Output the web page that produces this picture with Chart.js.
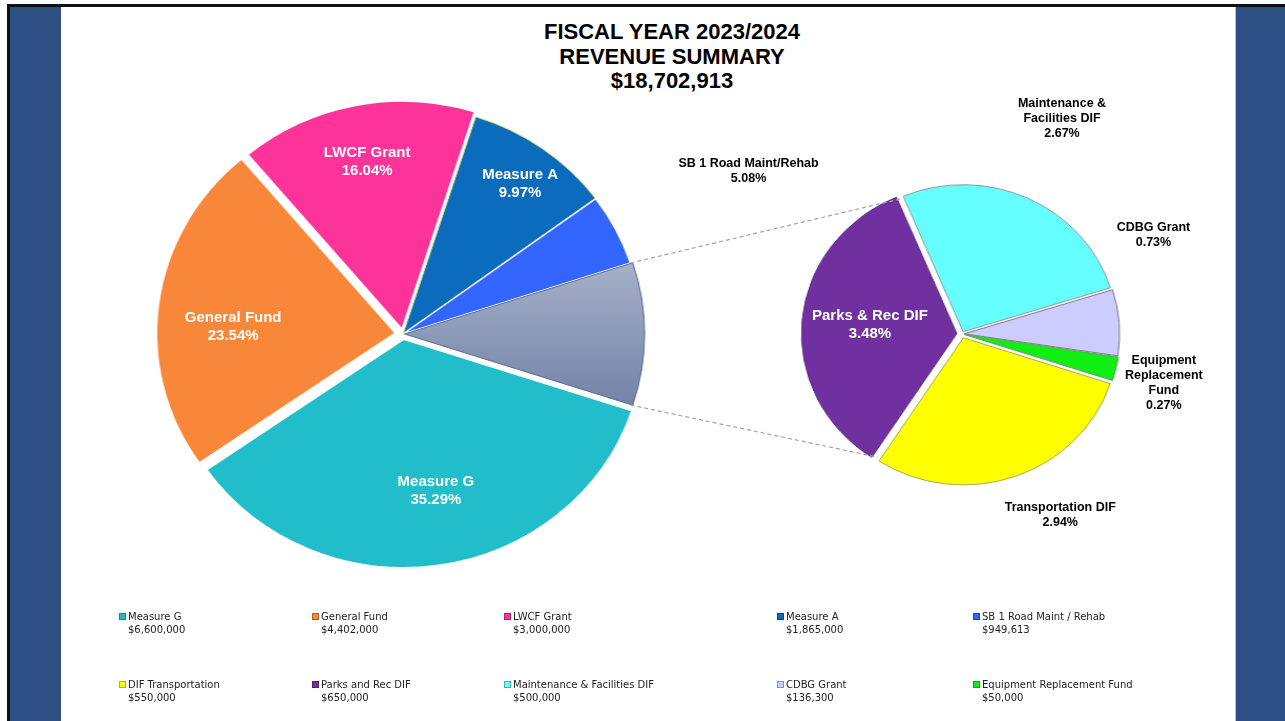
<!DOCTYPE html>
<html>
<head>
<meta charset="utf-8">
<title>Fiscal Year 2023/2024 Revenue Summary</title>
<script src="https://cdn.jsdelivr.net/npm/chart.js@4.4.1/dist/chart.umd.min.js"></script>
<style>
    html, body { margin: 0; padding: 0; background: #fff; }
    #page { position: relative; width: 1285px; height: 721px; overflow: hidden; background: #fff; }
    .frame { position: absolute; background: #111; }
    .band { position: absolute; top: 7px; height: 714px; background: #2d4f83; }
    #title {
        position: absolute; left: 472px; top: 20px; width: 400px;
        text-align: center; color: #000;
        font: bold 22px "Liberation Sans", Arial, sans-serif; line-height: 24.5px;
    }
    canvas.pie { position: absolute; transform: scaleX(1.05); }
    #overlay { position: absolute; left: 0; top: 0; pointer-events: none; }
    .lg {
        position: absolute; padding-left: 9px; color: #222;
        font: 10px "DejaVu Sans", Tahoma, sans-serif; line-height: 13px; white-space: nowrap;
    }
    .lg .sw { position: absolute; left: 0; top: 3px; width: 5px; height: 5px; border: 1px solid rgba(0,0,0,0.3); }
</style>
</head>
<body>
<div id="page">
    <div class="frame" style="left:7px; top:4px; width:1278px; height:3px;"></div>
    <div class="frame" style="left:7px; top:4px; width:3px; height:717px;"></div>
    <div class="band" style="left:10px; width:51px;"></div>
    <div class="band" style="left:1235px; width:50px; border-left:1px solid #b8c4d8;"></div>

    <div id="title"></div>

    <canvas id="main-pie" class="pie" width="520" height="520" style="left:143px; top:74px;"></canvas>
    <canvas id="sub-pie" class="pie" width="340" height="340" style="left:792px; top:164px;"></canvas>
    <canvas id="overlay" width="1285" height="721"></canvas>
    <div id="legend"></div>
</div>

<script>
/* ── Revenue summary, pie of pie ── */

// ── Data ──
const MAIN_LEGEND = ['Measure G', 'General Fund', 'LWCF Grant', 'Measure A', 'SB 1 Road Maint / Rehab'];
const MAIN_SLICE_NAMES = [['Measure G'], ['General Fund'], ['LWCF Grant'], ['Measure A'], ['SB 1 Road Maint/Rehab']];
const MAIN_VALUES = [6600000, 4402000, 3000000, 1865000, 949613];

const SUB_LEGEND = ['DIF Transportation', 'Parks and Rec DIF', 'Maintenance & Facilities DIF', 'CDBG Grant', 'Equipment Replacement Fund'];
const SUB_SLICE_NAMES = [['Transportation DIF'], ['Parks & Rec DIF'], ['Maintenance &', 'Facilities DIF'], ['CDBG Grant'], ['Equipment', 'Replacement', 'Fund']];
const SUB_VALUES = [550000, 650000, 500000, 136300, 50000];

// ── Styles ──
const MAIN_COLORS = ['#22bdca', '#f8873a', '#fc3399', '#0b6cbd', '#3366ff'];
const MAIN_BORDERS = ['#ffffff', '#ffffff', '#ffffff', '#e2de7a', '#ffffff', '#5b6b8c'];
const MAIN_BORDER_W = [2, 2, 2, 1, 1.5, 1];
const MAIN_EXPLODE = [5, 7, 4.5, 0, 0, 1.5];        // px the slice is pulled out

const SUB_COLORS = ['#ffff00', '#7030a0', '#66ffff', '#ccccff', '#11ee11'];
const SUB_BORDERS = ['#a8a850', '#5d2a85', '#8c9a9a', '#7a7a8c', '#6a9a6a'];
const SUB_EXPLODE = [4, 5, 2.5, 2, 2];

const SX = 1.05;            // the original slide is stretched a little sideways
const MAIN_RADIUS = 228;
const SUB_RADIUS = 147;

// label placement: distance as share of radius, angle nudge (deg), inside the slice?
const MAIN_LABEL_POS = [
    { f: 0.70, da: -3, inside: true },
    { f: 0.71, da: -5, inside: true },
    { f: 0.77, da: 0, inside: true },
    { f: 0.82, da: 1, inside: true },
    { f: 1.61, da: 1, inside: false },
];
const SUB_LABEL_POS = [
    { f: 1.385, da: -8, inside: false },
    { f: 0.60, da: 1, inside: true },
    { f: 1.60, da: -1, inside: false },
    { f: 1.41, da: -24, inside: false },
    { f: 1.35, da: 1, inside: false },
];

// ── Derived ──
const OTHER_TOTAL = SUB_VALUES.reduce((a, b) => a + b, 0);
const GRAND_TOTAL = MAIN_VALUES.reduce((a, b) => a + b, 0) + OTHER_TOTAL;
const OTHER_IDX = MAIN_VALUES.length;
// centre the "other" slice on the right-hand side, like Excel does
const ROTATION = 90 + (OTHER_TOTAL / GRAND_TOTAL) * 360 / 2;

const money = v => '$' + v.toLocaleString('en-US');
const pct = v => (v / GRAND_TOTAL * 100).toFixed(2) + '%';

// ── Helpers ──
function otherFill(c) {
    const area = c.chart.chartArea;
    if (!area) return '#8e9bb9';
    const cy = (area.top + area.bottom) / 2;
    const g = c.chart.ctx.createLinearGradient(0, cy - 80, 0, cy + 80);
    g.addColorStop(0, '#a9b4cb');
    g.addColorStop(1, '#7080a6');
    return g;
}

function pieChart(id, data, opts) {
    return new Chart(document.getElementById(id), {
        type: 'pie',
        data: {
            datasets: [{
                data,
                backgroundColor: opts.background,
                borderColor: opts.borders,
                borderWidth: opts.borderWidth,
                offset: opts.explode.map(px => px * 4),
            }],
        },
        options: {
            responsive: false,
            maintainAspectRatio: false,
            devicePixelRatio: 1,
            animation: false,
            events: [],
            radius: opts.radius,
            rotation: ROTATION,
            layout: { padding: 0 },
            plugins: { legend: { display: false }, tooltip: { enabled: false }, title: { display: false } },
        },
    });
}

function pagePoint(chart, lx, ly) {
    const c = chart.canvas;
    const w = chart.width;
    return { x: c.offsetLeft + w / 2 + (lx - w / 2) * SX, y: c.offsetTop + ly };
}

function rimPoint(chart, el, angle) {
    return pagePoint(chart, el.x + Math.cos(angle) * el.outerRadius, el.y + Math.sin(angle) * el.outerRadius);
}

function drawLabels(ctx, chart, names, values, pos) {
    const arcs = chart.getDatasetMeta(0).data;
    names.forEach((lines, i) => {
        const el = arcs[i];
        const p = pos[i];
        const a = (el.startAngle + el.endAngle) / 2 + p.da * Math.PI / 180;
        const d = el.outerRadius * p.f;
        const pt = pagePoint(chart, el.x + Math.cos(a) * d, el.y + Math.sin(a) * d);
        const text = lines.concat([pct(values[i])]);
        const lh = p.inside ? 18 : 15;
        ctx.font = p.inside ? 'bold 15px "Liberation Sans", Arial, sans-serif'
                            : 'bold 12.5px "Liberation Sans", Arial, sans-serif';
        ctx.fillStyle = p.inside ? '#ffffff' : '#000000';
        ctx.textAlign = 'center';
        ctx.textBaseline = 'middle';
        const y0 = pt.y - (text.length - 1) * lh / 2;
        text.forEach((t, k) => ctx.fillText(t, pt.x, y0 + k * lh));
    });
}

// ── Title ──
document.getElementById('title').innerHTML =
    'FISCAL YEAR 2023/2024<br>REVENUE SUMMARY<br>' + money(GRAND_TOTAL);

// ── Charts ──
const mainChart = pieChart('main-pie', MAIN_VALUES.concat([OTHER_TOTAL]), {
    background: c => c.dataIndex === OTHER_IDX ? otherFill(c) : MAIN_COLORS[c.dataIndex],
    borders: MAIN_BORDERS,
    borderWidth: MAIN_BORDER_W,
    explode: MAIN_EXPLODE,
    radius: MAIN_RADIUS,
});

const subChart = pieChart('sub-pie', SUB_VALUES, {
    background: SUB_COLORS,
    borders: SUB_BORDERS,
    borderWidth: 1,
    explode: SUB_EXPLODE,
    radius: SUB_RADIUS,
});

// ── Connectors and data labels ──
const octx = document.getElementById('overlay').getContext('2d');
const other = mainChart.getDatasetMeta(0).data[OTHER_IDX];
const parks = subChart.getDatasetMeta(0).data[1];

octx.save();
octx.strokeStyle = '#a3a3a3';
octx.lineWidth = 1.2;
octx.setLineDash([4, 3]);
[[other.startAngle, parks.endAngle], [other.endAngle, parks.startAngle]].forEach(([a1, a2]) => {
    const p1 = rimPoint(mainChart, other, a1);
    const p2 = rimPoint(subChart, parks, a2);
    octx.beginPath();
    octx.moveTo(p1.x, p1.y);
    octx.lineTo(p2.x, p2.y);
    octx.stroke();
});
octx.restore();

drawLabels(octx, mainChart, MAIN_SLICE_NAMES, MAIN_VALUES, MAIN_LABEL_POS);
drawLabels(octx, subChart, SUB_SLICE_NAMES, SUB_VALUES, SUB_LABEL_POS);

// ── Legend ──
const LEGEND_COL_X = [119, 312, 504, 777, 973];
const LEGEND_ROW_Y = [610, 678];
const legendItems = MAIN_LEGEND.map((n, i) => ({ name: n, value: MAIN_VALUES[i], color: MAIN_COLORS[i] }))
    .concat(SUB_LEGEND.map((n, i) => ({ name: n, value: SUB_VALUES[i], color: SUB_COLORS[i] })));

document.getElementById('legend').innerHTML = legendItems.map((it, i) => {
    const x = LEGEND_COL_X[i % 5];
    const y = LEGEND_ROW_Y[Math.floor(i / 5)];
    const name = it.name.replace('&', '&amp;');
    return `<div class="lg" style="left:${x}px; top:${y}px;">` +
        `<span class="sw" style="background:${it.color};"></span>${name}<br>${money(it.value)}</div>`;
}).join('');
</script>
</body>
</html>
